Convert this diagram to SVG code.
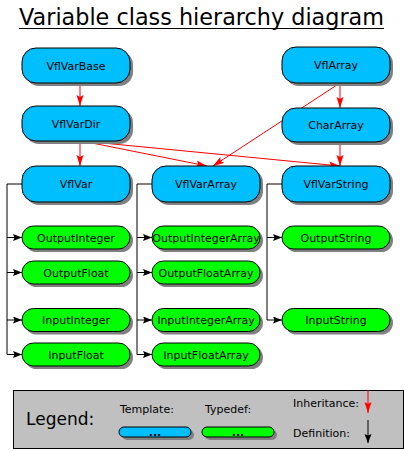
<svg xmlns="http://www.w3.org/2000/svg" width="404" height="451" viewBox="0 0 404 451">
<style>
text{font-family:"DejaVu Sans","Liberation Sans",sans-serif;fill:#000}
.lbl{font-size:11px;text-anchor:middle}
.tpl{fill:#00bfff;stroke:#000;stroke-width:1}
.tdf{fill:#00ff00;stroke:#000;stroke-width:1}
.sh{fill:#808080}
.inh{stroke:#ff0000;stroke-width:1;fill:none;marker-end:url(#ra)}
.def{stroke:#000;stroke-width:1;fill:none}
.defa{stroke:#000;stroke-width:1;fill:none;marker-end:url(#ba)}
</style>
<defs>
<marker id="ra" markerUnits="userSpaceOnUse" markerWidth="12" markerHeight="8" refX="11" refY="3.5" orient="auto">
<path d="M0,0 L11,3.5 L0,7 L2,3.5 Z" fill="#ff0000"/>
</marker>
<marker id="ba" markerUnits="userSpaceOnUse" markerWidth="10" markerHeight="8" refX="9" refY="3.5" orient="auto">
<path d="M0,0 L9,3.5 L0,7 L1.5,3.5 Z" fill="#000"/>
</marker>
</defs>
<rect width="404" height="451" fill="#fff"/>
<text x="19" y="25" style="font-size:23px" textLength="365" lengthAdjust="spacingAndGlyphs">Variable class hierarchy diagram</text>
<line x1="19" y1="28.5" x2="384" y2="28.5" stroke="#000" stroke-width="1.2"/>

<g id="connectors">
<line class="inh" x1="80" y1="83" x2="80" y2="106"/>
<line class="inh" x1="80" y1="141" x2="80" y2="166"/>
<line class="inh" x1="82" y1="141" x2="207" y2="166"/>
<line class="inh" x1="82" y1="141" x2="340" y2="166"/>
<line class="inh" x1="340" y1="83" x2="340" y2="108"/>
<line class="inh" x1="340" y1="83" x2="213" y2="166"/>
<line class="inh" x1="340" y1="142" x2="340" y2="166"/>
<polyline class="def" points="22,184 7,184 7,354.5"/>
<line class="defa" x1="7" y1="237.5" x2="22" y2="237.5"/>
<line class="defa" x1="7" y1="272.5" x2="22" y2="272.5"/>
<line class="defa" x1="7" y1="320" x2="22" y2="320"/>
<line class="defa" x1="7" y1="354.5" x2="22" y2="354.5"/>
<polyline class="def" points="152,184 137,184 137,354.5"/>
<line class="defa" x1="137" y1="237.5" x2="152" y2="237.5"/>
<line class="defa" x1="137" y1="272.5" x2="152" y2="272.5"/>
<line class="defa" x1="137" y1="320" x2="152" y2="320"/>
<line class="defa" x1="137" y1="354.5" x2="152" y2="354.5"/>
<polyline class="def" points="282,184 267,184 267,320"/>
<line class="defa" x1="267" y1="237.5" x2="282" y2="237.5"/>
<line class="defa" x1="267" y1="320" x2="282" y2="320"/>
</g>

<g id="VflVarBase"><rect class="sh" x="25" y="51" width="108" height="35" rx="14"/><rect class="tpl" x="22" y="48" width="108" height="35" rx="14"/><text class="lbl" x="76" y="69.5">VflVarBase</text></g>
<g id="VflVarDir"><rect class="sh" x="25" y="109" width="108" height="35" rx="14"/><rect class="tpl" x="22" y="106" width="108" height="35" rx="14"/><text class="lbl" x="76" y="127.5">VflVarDir</text></g>
<g id="VflArray"><rect class="sh" x="285" y="50" width="108" height="36" rx="14"/><rect class="tpl" x="282" y="47" width="108" height="36" rx="14"/><text class="lbl" x="336" y="69">VflArray</text></g>
<g id="CharArray"><rect class="sh" x="285" y="111" width="108" height="34" rx="14"/><rect class="tpl" x="282" y="108" width="108" height="34" rx="14"/><text class="lbl" x="336" y="129">CharArray</text></g>
<g id="VflVar"><rect class="sh" x="25" y="169" width="108" height="36" rx="14"/><rect class="tpl" x="22" y="166" width="108" height="36" rx="14"/><text class="lbl" x="76" y="188">VflVar</text></g>
<g id="VflVarArray"><rect class="sh" x="155" y="169" width="108" height="36" rx="14"/><rect class="tpl" x="152" y="166" width="108" height="36" rx="14"/><text class="lbl" x="206" y="188">VflVarArray</text></g>
<g id="VflVarString"><rect class="sh" x="285" y="169" width="108" height="36" rx="14"/><rect class="tpl" x="282" y="166" width="108" height="36" rx="14"/><text class="lbl" x="336" y="188">VflVarString</text></g>

<g id="OutputInteger"><rect class="sh" x="25" y="229" width="108" height="23" rx="11.5"/><rect class="tdf" x="22" y="226" width="108" height="23" rx="11.5"/><text class="lbl" x="76" y="241.5">OutputInteger</text></g>
<g id="OutputFloat"><rect class="sh" x="25" y="264" width="108" height="23" rx="11.5"/><rect class="tdf" x="22" y="261" width="108" height="23" rx="11.5"/><text class="lbl" x="76" y="276.5">OutputFloat</text></g>
<g id="InputInteger"><rect class="sh" x="25" y="311.5" width="108" height="23" rx="11.5"/><rect class="tdf" x="22" y="308.5" width="108" height="23" rx="11.5"/><text class="lbl" x="76" y="324">InputInteger</text></g>
<g id="InputFloat"><rect class="sh" x="25" y="346" width="108" height="23" rx="11.5"/><rect class="tdf" x="22" y="343" width="108" height="23" rx="11.5"/><text class="lbl" x="76" y="358.5">InputFloat</text></g>

<g id="OutputIntegerArray"><rect class="sh" x="155" y="229" width="108" height="23" rx="11.5"/><rect class="tdf" x="152" y="226" width="108" height="23" rx="11.5"/><text class="lbl" x="206" y="241.5">OutputIntegerArray</text></g>
<g id="OutputFloatArray"><rect class="sh" x="155" y="264" width="108" height="23" rx="11.5"/><rect class="tdf" x="152" y="261" width="108" height="23" rx="11.5"/><text class="lbl" x="206" y="276.5">OutputFloatArray</text></g>
<g id="InputIntegerArray"><rect class="sh" x="155" y="311.5" width="108" height="23" rx="11.5"/><rect class="tdf" x="152" y="308.5" width="108" height="23" rx="11.5"/><text class="lbl" x="206" y="324">InputIntegerArray</text></g>
<g id="InputFloatArray"><rect class="sh" x="155" y="346" width="108" height="23" rx="11.5"/><rect class="tdf" x="152" y="343" width="108" height="23" rx="11.5"/><text class="lbl" x="206" y="358.5">InputFloatArray</text></g>

<g id="OutputString"><rect class="sh" x="285" y="229" width="108" height="23" rx="11.5"/><rect class="tdf" x="282" y="226" width="108" height="23" rx="11.5"/><text class="lbl" x="336" y="241.5">OutputString</text></g>
<g id="InputString"><rect class="sh" x="285" y="311.5" width="108" height="23" rx="11.5"/><rect class="tdf" x="282" y="308.5" width="108" height="23" rx="11.5"/><text class="lbl" x="336" y="324">InputString</text></g>

<g id="legend">
<rect x="13.5" y="390.5" width="390" height="58" fill="#c0c0c0" stroke="#000" stroke-width="1"/>
<text x="26" y="425" style="font-size:17px">Legend:</text>
<text x="120" y="413" style="font-size:11px">Template:</text>
<text x="205" y="413" style="font-size:11px">Typedef:</text>
<rect class="sh" x="122" y="430" width="72" height="10" rx="5"/>
<rect class="tpl" x="119" y="427" width="72" height="10" rx="5"/>
<text class="lbl" x="155" y="436" style="font-weight:bold">...</text>
<rect class="sh" x="205" y="430" width="72" height="10" rx="5"/>
<rect class="tdf" x="202" y="427" width="72" height="10" rx="5"/>
<text class="lbl" x="238" y="436" style="font-weight:bold">...</text>
<text x="293" y="407" style="font-size:11px">Inheritance:</text>
<text x="293" y="437" style="font-size:11px">Definition:</text>
<line class="inh" x1="368" y1="390" x2="368" y2="413"/>
<line class="defa" x1="368" y1="420" x2="368" y2="443"/>
</g>
</svg>
